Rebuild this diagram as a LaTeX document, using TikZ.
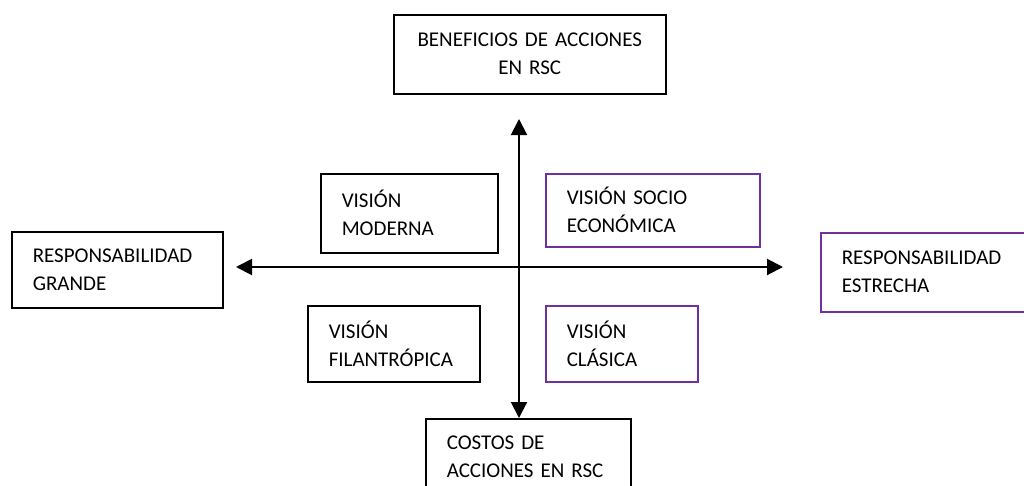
\documentclass[tikz,border=0pt]{standalone}
\usepackage{fontspec}
\setmainfont{Carlito}[WordSpace=0.7]
\usetikzlibrary{arrows.meta,positioning}
\definecolor{violeta}{RGB}{112,48,160}
\tikzstyle{block} = [draw, rectangle, line width=1.5pt, anchor=north west, inner xsep=21pt, inner ysep=0pt, align=left, font=\fontsize{21}{28}\selectfont]
\tikzstyle{pblock} = [block, draw=violeta]
\tikzstyle{axis} = [line width=2pt, {Triangle[length=16pt,width=16pt]}-{Triangle[length=16pt,width=16pt]}]

\begin{document}
\begin{tikzpicture}[x=1pt, y=-1pt]
	  \useasboundingbox (0,0) rectangle (1024,485);
	  \node [block, align=center, minimum width=272pt, minimum height=79pt, text width=230pt] (benef) at (393,14) {BENEFICIOS DE ACCIONES\\EN RSC};
	  \node [block, minimum width=211pt, minimum height=76pt, text width=169pt] (grande) at (11,231) {RESPONSABILIDAD\\GRANDE};
	  \node [pblock, minimum width=240pt, minimum height=79pt, text width=198pt] (estrecha) at (820,232) {RESPONSABILIDAD\\ESTRECHA};
	  \node [block, minimum width=177pt, minimum height=79pt, text width=135pt] (moderna) at (320,173) {VISIÓN\\MODERNA};
	  \node [pblock, minimum width=214pt, minimum height=73pt, text width=172pt] (socio) at (545,173) {VISIÓN SOCIO\\ECONÓMICA};
	  \node [block, minimum width=172pt, minimum height=76pt, text width=130pt] (filan) at (307,305) {VISIÓN\\FILANTRÓPICA};
	  \node [pblock, minimum width=152pt, minimum height=76pt, text width=110pt] (clasica) at (545,305) {VISIÓN\\CLÁSICA};
	  \node [block, minimum width=205pt, minimum height=76pt, text width=163pt] (costos) at (425,418) {COSTOS DE\\ACCIONES EN RSC};

	  \coordinate (up) at (519,119);
	  \coordinate (down) at (519,418);
	  \coordinate (left) at (236,267);
	  \coordinate (right) at (783,267);

	  \draw [axis] (down) -- (up);
	  \draw [axis] (left) -- (right);
	\end{tikzpicture}
\end{document}
